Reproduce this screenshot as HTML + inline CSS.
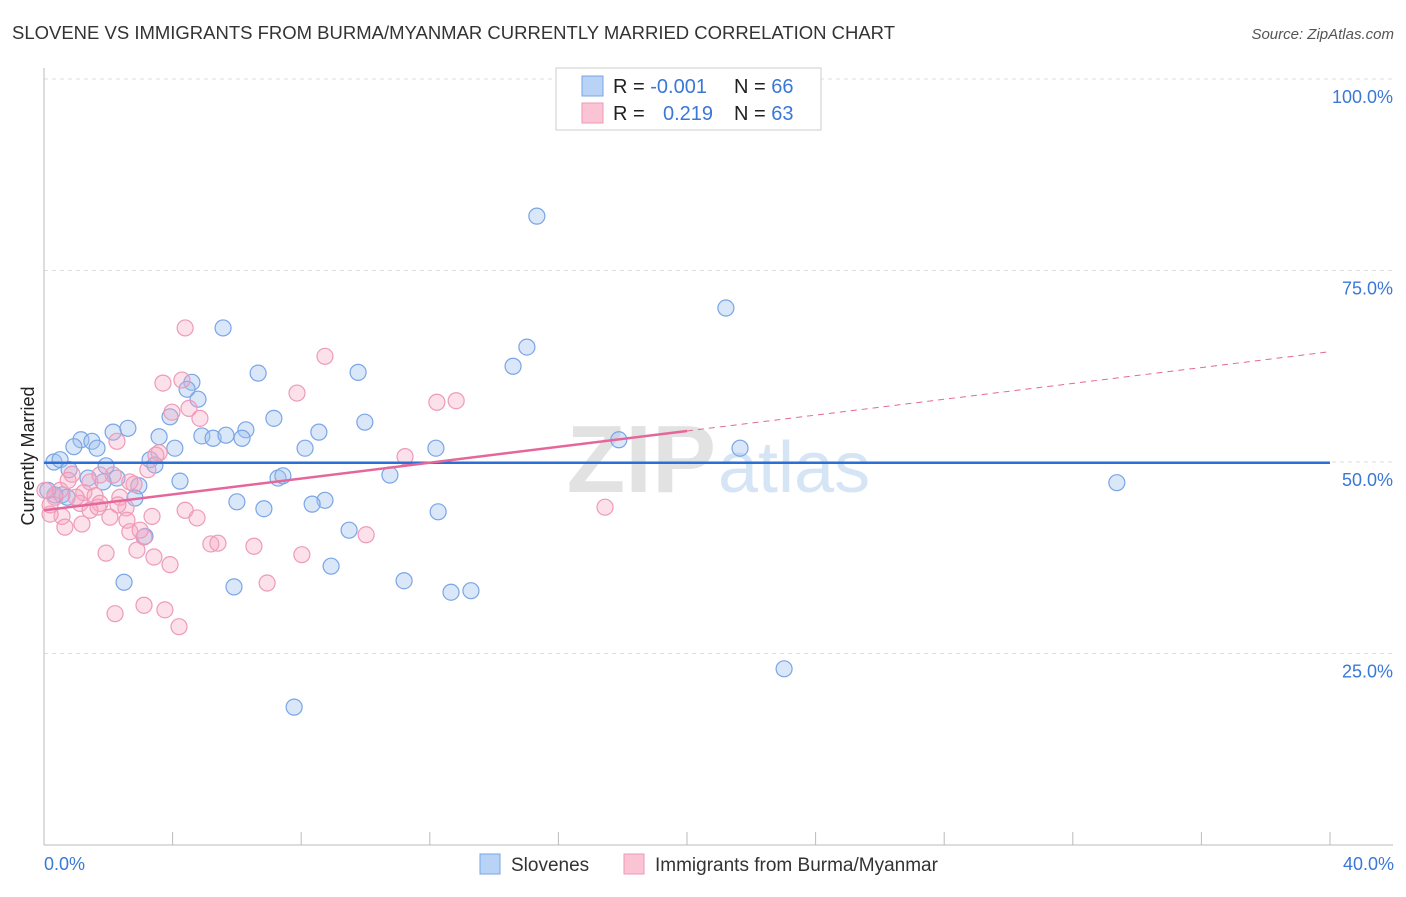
<!DOCTYPE html>
<html><head><meta charset="utf-8"><style>
body{margin:0;background:#fff;font-family:"Liberation Sans",sans-serif;}
svg text{font-family:"Liberation Sans",sans-serif;}
</style></head><body>
<svg id="chart" width="1406" height="892" xmlns="http://www.w3.org/2000/svg">
<text x="12" y="39" font-size="18" fill="#333" textLength="883" lengthAdjust="spacingAndGlyphs">SLOVENE VS IMMIGRANTS FROM BURMA/MYANMAR CURRENTLY MARRIED CORRELATION CHART</text>
<text x="1394" y="39" font-size="15" fill="#555" font-style="italic" text-anchor="end">Source: ZipAtlas.com</text>
<text x="716" y="492" font-size="96" fill="#e2e2e2" font-family="Liberation Serif" text-anchor="end" font-weight="bold">ZIP</text>
<text x="718" y="492" font-size="72" fill="#d6e5f5">atlas</text>
<g id="grid"></g><g id="pts"></g><g id="lines"></g>
<text transform="translate(34,456) rotate(-90)" font-size="18" fill="#222" text-anchor="middle">Currently Married</text>
<text x="44" y="870" font-size="18" fill="#3a78d6">0.0%</text>
<text x="1394" y="870" font-size="18" fill="#3a78d6" text-anchor="end">40.0%</text>
<g>
<rect x="556" y="68" width="265" height="62" fill="#fff" stroke="#ccc"/>
<rect x="582" y="76" width="21" height="20" fill="#b8d3f6" stroke="#7aa5e6"/>
<rect x="582" y="103" width="21" height="20" fill="#fbc4d4" stroke="#ee9ab8"/>
<text x="613" y="93" font-size="20" fill="#222">R = <tspan fill="#3a78d6">-0.001</tspan></text>
<text x="734" y="93" font-size="20" fill="#222">N = <tspan fill="#3a78d6">66</tspan></text>
<text x="613" y="120" font-size="20" fill="#222">R = </text>
<text x="663" y="120" font-size="20" fill="#3a78d6">0.219</text>
<text x="734" y="120" font-size="20" fill="#222">N = <tspan fill="#3a78d6">63</tspan></text>
</g>
<g>
<rect x="480" y="854" width="20" height="20" fill="#b8d3f6" stroke="#7aa5e6"/>
<text x="511" y="871" font-size="19" fill="#333">Slovenes</text>
<rect x="624" y="854" width="20" height="20" fill="#fbc4d4" stroke="#ee9ab8"/>
<text x="655" y="871" font-size="19" fill="#333">Immigrants from Burma/Myanmar</text>
</g>
</svg>
<script>
const blueX=[15.33,21.21,5.57,15.02,14.59,6.66,9.77,4.60,4.45,4.79,3.92,7.15,9.98,2.61,2.15,3.58,4.91,5.26,5.66,6.28,6.16,8.55,1.15,0.93,1.49,1.65,4.07,8.12,12.19,17.88,21.65,0.31,0.50,3.30,3.45,1.93,0.78,1.37,2.27,1.84,2.95,4.23,7.28,7.43,10.76,33.37,0.56,0.72,2.83,6.00,8.74,8.34,6.84,12.26,3.14,9.49,8.93,2.49,5.91,11.20,12.66,13.28,23.02,7.78,0.34,0.12];
const blueY=[82.1,70.1,67.5,65.0,62.5,61.6,61.7,60.4,59.5,58.2,55.9,55.7,55.2,54.4,53.9,53.3,53.4,53.1,53.5,54.2,53.1,53.9,52.9,52.0,52.7,51.8,51.8,51.8,51.8,52.9,51.8,50.0,50.3,50.3,49.6,49.5,49.0,47.9,47.9,47.4,46.9,47.5,47.9,48.2,48.3,47.3,45.7,45.4,45.3,44.8,45.0,44.5,43.9,43.5,40.3,41.1,36.4,34.3,33.7,34.5,33.0,33.2,23.0,18.0,45.7,46.3];
const pinkX=[4.39,8.74,3.70,4.29,7.87,12.22,12.82,3.98,4.51,4.85,2.27,3.58,11.23,3.23,0.87,2.80,2.15,2.36,1.24,1.59,1.12,1.74,1.43,1.68,2.55,2.05,2.58,3.36,4.39,4.76,0.56,0.19,0.65,1.18,2.67,3.11,1.93,2.89,3.42,3.92,5.19,5.41,6.53,8.02,10.02,17.45,6.94,2.21,3.11,3.76,4.20,0.34,0.50,1.00,0.03,0.19,0.75,1.43,2.30,3.48,2.67,1.74,2.99];
const pinkY=[67.5,63.8,60.3,60.7,59.0,57.8,58.0,56.5,57.0,55.7,52.7,51.2,50.7,49.0,48.4,47.1,48.3,45.4,46.0,45.6,44.6,44.6,43.7,44.1,44.0,42.8,42.4,42.9,43.7,42.7,42.9,43.2,41.5,41.9,40.9,40.2,38.1,38.5,37.6,36.6,39.3,39.4,39.0,37.9,40.5,44.1,34.2,30.2,31.3,30.7,28.5,45.4,46.3,45.4,46.3,44.4,47.6,47.4,44.4,50.9,47.4,48.3,41.1];
const yTicks=[25,50,75,100];
const xTicks=[0,4,8,12,16,20,24,28,32,36,40];
const blueTrend=[49.9,49.9];
const pinkTrend=[43.7,64.4];
const NS="http://www.w3.org/2000/svg";
const sx=v=>44+v*32.15, sy=v=>845-v*7.66;
function mk(t,a,p){const e=document.createElementNS(NS,t);for(const k in a)e.setAttribute(k,a[k]);p.appendChild(e);return e;}
const g=document.getElementById('grid');
yTicks.forEach(t=>{
 const l=mk('line',{x1:44,x2:1393,y1:sy(t),y2:sy(t),stroke:'#ddd','stroke-dasharray':'4,4'},g);
 
 
 const tx=mk('text',{x:1393,y:sy(t)+24,'font-size':18,fill:'#3a78d6','text-anchor':'end'},g);tx.textContent=t.toFixed(1)+'%';
 
 
});
mk('line',{x1:44,x2:44,y1:68,y2:845,stroke:'#bbb'},g);
mk('line',{x1:44,x2:1393,y1:845,y2:845,stroke:'#bbb'},g);
xTicks.forEach(t=>{const l=mk('line',{x1:sx(t),x2:sx(t),y1:832,y2:845,stroke:'#bbb'},g);
 
 });
const p=document.getElementById('pts');
blueX.forEach((x,i)=>{const c=mk('circle',{cx:sx(x),cy:sy(blueY[i]),r:8,fill:'rgba(160,195,240,0.4)',stroke:'#7aa5e6','stroke-width':1.2},p);
 
 });
pinkX.forEach((x,i)=>{const c=mk('circle',{cx:sx(x),cy:sy(pinkY[i]),r:8,fill:'rgba(245,170,195,0.35)',stroke:'#ee9ab8','stroke-width':1.2},p);
 
 });
const L=document.getElementById('lines');
const bl=mk('line',{x1:sx(0),x2:sx(40),y1:sy(blueTrend[0]),y2:sy(blueTrend[1]),stroke:'#2a6fd6','stroke-width':2.5},L);


const pm=pinkTrend[0]+(pinkTrend[1]-pinkTrend[0])*0.5;
const pl=mk('line',{x1:sx(0),x2:sx(20),y1:sy(pinkTrend[0]),y2:sy(pm),stroke:'#e5679a','stroke-width':2.5},L);


const pd=mk('line',{x1:sx(20),x2:sx(40),y1:sy(pm),y2:sy(pinkTrend[1]),stroke:'#e5679a','stroke-width':1,'stroke-dasharray':'6,5'},L);


</script>
</body></html>
